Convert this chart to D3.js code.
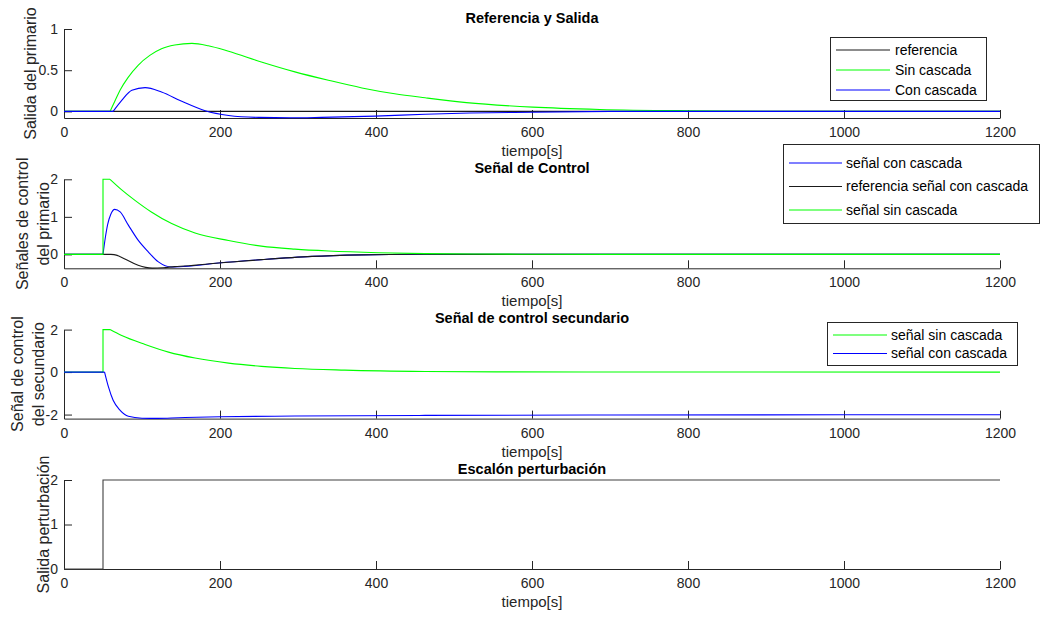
<!DOCTYPE html>
<html>
<head>
<meta charset="utf-8">
<script src="https://cdn.jsdelivr.net/npm/d3@7"></script>
<style>
  html, body { margin: 0; padding: 0; background: #fff; }
  svg { display: block; font-family: "Liberation Sans", Arial, Helvetica, sans-serif; }
</style>
</head>
<body>
<svg id="fig" width="1040" height="617"></svg>
<script>
// ---- shared time axis ----
const timeDomain = [0, 1200];
const timeTicks = [0, 200, 400, 600, 800, 1000, 1200];
const timeLabel = "tiempo[s]";

// ---- Panel 1: Referencia y Salida ----
const refTime1 = [0, 1200];
const refValue1 = [0, 0];
const sinTime1 = [0, 59, 65, 72, 82, 95, 110, 125, 142, 164, 185, 211, 253, 296, 339, 382, 424, 463, 516, 601, 687, 800, 900, 1200];
const sinValue1 = [0, 0, 0.12, 0.26, 0.41, 0.56, 0.68, 0.76, 0.805, 0.825, 0.797, 0.73, 0.60, 0.48, 0.378, 0.285, 0.214, 0.165, 0.106, 0.052, 0.024, 0.008, 0.002, 0];
const conTime1 = [0, 63, 74, 87, 104, 125, 151, 181, 211, 250, 290, 330, 399, 463, 520, 601, 700, 1200];
const conValue1 = [0, 0, 0.134, 0.256, 0.289, 0.236, 0.122, 0.008, -0.049, -0.073, -0.077, -0.072, -0.057, -0.035, -0.02, -0.01, 0, 0];
const yTicks1 = [0, 0.5, 1];
const yTickLabels1 = ["0", "0.5", "1"];

// ---- Panel 2: Señal de Control ----
const conTime2 = [0, 50, 53, 56, 60, 65, 72, 82.5, 95, 108, 121, 138, 155, 198, 253, 318, 382, 450, 550, 1200];
const conValue2 = [0, 0, 0.45, 0.8, 1.07, 1.2, 1.13, 0.78, 0.38, 0.07, -0.2, -0.335, -0.32, -0.23, -0.14, -0.053, -0.012, 0.005, 0, 0];
const refTime2 = [0, 60, 67, 78, 95, 113, 127, 142, 155, 198, 253, 318, 382, 450, 550, 1200];
const refValue2 = [0, 0, -0.02, -0.12, -0.29, -0.365, -0.355, -0.325, -0.31, -0.23, -0.14, -0.053, -0.012, 0.005, 0, 0];
const sinTime2 = [0, 50, 50, 59, 74, 91, 112, 138, 168, 211, 253, 296, 339, 403, 463, 530, 600, 700, 1200];
const sinValue2 = [0, 0, 2, 2, 1.72, 1.44, 1.13, 0.82, 0.57, 0.37, 0.22, 0.14, 0.09, 0.045, 0.022, 0.01, 0.004, 0, 0];
const yTicks2 = [0, 1, 2];
const yTickLabels2 = ["0", "1", "2"];

// ---- Panel 3: Señal de control secundario ----
const sinTime3 = [0, 50, 50, 59, 74, 104, 134, 168, 211, 253, 296, 360, 463, 560, 700, 1200];
const sinValue3 = [0, 0, 2, 2, 1.72, 1.30, 0.94, 0.66, 0.42, 0.27, 0.17, 0.094, 0.03, 0.01, 0.002, 0];
const conTime3 = [0, 52, 57, 63, 72, 82.5, 100, 120, 147, 200, 296, 463, 700, 1000, 1200];
const conValue3 = [0, 0, -0.70, -1.33, -1.80, -2.08, -2.17, -2.18, -2.15, -2.1, -2.07, -2.04, -2.02, -2.01, -2.01];
const yTicks3 = [-2, 0, 2];
const yTickLabels3 = ["-2", "0", "2"];

// ---- Panel 4: Escalón perturbación ----
const stepTime4 = [0, 50, 50, 1200];
const stepValue4 = [0, 0, 2, 2];
const yTicks4 = [0, 1, 2];
const yTickLabels4 = ["0", "1", "2"];

// ---- colours ----
const GREEN = "#00ff00", BLUE = "#0000ff", BLACK = "#1a1a1a", AXIS = "#262626";

const panels = [
  {
    title: "Referencia y Salida",
    ylabel: ["Salida del primario"], ylabelX: [30],
    yDomain: [-0.08, 1], yTicks: yTicks1, yTickLabels: yTickLabels1,
    series: [
      { name: "referencia", t: refTime1, v: refValue1, color: BLACK },
      { name: "Sin cascada", t: sinTime1, v: sinValue1, color: GREEN },
      { name: "Con cascada", t: conTime1, v: conValue1, color: BLUE }
    ],
    legend: { x: 830, y: 37, w: 156, h: 63, first: 13, step: 20, lineLen: 54, textOff: 65,
              order: [0, 1, 2] }
  },
  {
    title: "Señal de Control",
    ylabel: ["Señales de control", "del primario"], ylabelX: [22, 43],
    yDomain: [-0.37, 2], yTicks: yTicks2, yTickLabels: yTickLabels2,
    series: [
      { name: "señal con cascada", t: conTime2, v: conValue2, color: BLUE },
      { name: "referencia señal con cascada", t: refTime2, v: refValue2, color: BLACK },
      { name: "señal sin cascada", t: sinTime2, v: sinValue2, color: GREEN }
    ],
    legend: { x: 783, y: 144, w: 256, h: 79, first: 19, step: 23.5, lineLen: 53, textOff: 63,
              order: [0, 1, 2] }
  },
  {
    title: "Señal de control secundario",
    ylabel: ["Señal de control", "del secundario"], ylabelX: [17, 38],
    yDomain: [-2.19, 2], yTicks: yTicks3, yTickLabels: yTickLabels3,
    series: [
      { name: "señal sin cascada", t: sinTime3, v: sinValue3, color: GREEN },
      { name: "señal con cascada", t: conTime3, v: conValue3, color: BLUE }
    ],
    legend: { x: 827, y: 322, w: 190, h: 43, first: 13, step: 18.5, lineLen: 54, textOff: 64,
              order: [0, 1] }
  },
  {
    title: "Escalón perturbación",
    ylabel: ["Salida perturbación"], ylabelX: [43],
    yDomain: [0, 2], yTicks: yTicks4, yTickLabels: yTickLabels4,
    series: [
      { name: "perturbación", t: stepTime4, v: stepValue4, color: "#404040" }
    ],
    legend: null
  }
];

const svg = d3.select("#fig");
const left = 64, right = 1000;
const panelTops = [29, 179.3, 329.6, 480];
const panelHeight = 89;

const x = d3.scaleLinear().domain(timeDomain).range([left, right]);

// Straight segments for flat runs and vertical steps, monotone curves elsewhere
function seriesPath(y, ts, vs) {
  const pts = ts.map((t, i) => [x(t), y(vs[i])]);
  const kind = i => (ts[i] === ts[i - 1] || vs[i] === vs[i - 1]) ? "lin" : "smooth";
  let d = "";
  let i = 1;
  while (i < pts.length) {
    const k = kind(i);
    let j = i;
    while (j + 1 < pts.length && kind(j + 1) === k) j++;
    const gen = d3.line().curve(k === "lin" ? d3.curveLinear : d3.curveMonotoneX);
    d += gen(pts.slice(i - 1, j + 1));
    i = j + 1;
  }
  return d;
}

panels.forEach((p, idx) => {
  const top = panelTops[idx], bottom = top + panelHeight;
  const y = d3.scaleLinear().domain(p.yDomain).range([bottom, top]);
  const g = svg.append("g");

  // axes (left and bottom only, inward ticks)
  const xAxis = d3.axisBottom(x).tickValues(timeTicks).tickFormat(d3.format("d"))
    .tickSizeInner(-8).tickSizeOuter(0).tickPadding(9);
  const gx = g.append("g").attr("transform", `translate(0,${bottom})`).call(xAxis);

  const yAxis = d3.axisLeft(y).tickValues(p.yTicks)
    .tickFormat((d, i) => p.yTickLabels[i])
    .tickSizeInner(-8).tickSizeOuter(0).tickPadding(6);
  const gy = g.append("g").attr("transform", `translate(${left},0)`).call(yAxis);

  [gx, gy].forEach(a => {
    a.select(".domain").attr("stroke", AXIS).attr("stroke-width", 1);
    a.selectAll(".tick line").attr("stroke", AXIS);
    a.selectAll(".tick text").attr("fill", AXIS).attr("font-size", 14)
      .attr("font-family", "Liberation Sans, Arial, sans-serif");
  });

  // series
  p.series.forEach(s => {
    g.append("path")
      .attr("d", seriesPath(y, s.t, s.v))
      .attr("fill", "none")
      .attr("stroke", s.color)
      .attr("stroke-width", 1.1);
  });

  // title
  g.append("text")
    .attr("x", (left + right) / 2).attr("y", top - 6.5)
    .attr("text-anchor", "middle")
    .attr("font-weight", "bold").attr("font-size", 14.5).attr("fill", "#000")
    .text(p.title);

  // x label
  g.append("text")
    .attr("x", (left + right) / 2).attr("y", bottom + 38)
    .attr("text-anchor", "middle")
    .attr("font-size", 15).attr("fill", AXIS)
    .text(timeLabel);

  // y label
  p.ylabel.forEach((line, k) => {
    g.append("text")
      .attr("transform", `translate(${p.ylabelX[k]},${(top + bottom) / 2}) rotate(-90)`)
      .attr("text-anchor", "middle").attr("dy", "0.35em")
      .attr("font-size", 16).attr("fill", AXIS)
      .text(line);
  });

  // legend
  if (p.legend) {
    const L = p.legend;
    const lg = svg.append("g");
    lg.append("rect")
      .attr("x", L.x + 0.5).attr("y", L.y + 0.5)
      .attr("width", L.w).attr("height", L.h)
      .attr("fill", "#fff").attr("stroke", AXIS).attr("stroke-width", 1);
    L.order.forEach((si, k) => {
      const s = p.series[si];
      const ly = L.y + L.first + k * L.step;
      lg.append("line")
        .attr("x1", L.x + 6).attr("x2", L.x + 6 + L.lineLen)
        .attr("y1", ly).attr("y2", ly)
        .attr("stroke", s.color).attr("stroke-width", 1.1);
      lg.append("text")
        .attr("x", L.x + L.textOff).attr("y", ly).attr("dy", "0.35em")
        .attr("font-size", 14).attr("fill", "#000")
        .text(s.name);
    });
  }
});
</script>
</body>
</html>
